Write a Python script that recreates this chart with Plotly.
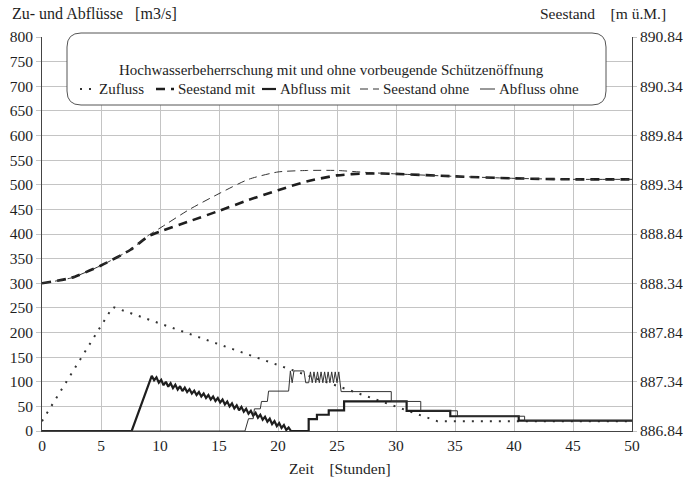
import plotly.graph_objects as go

# ---------------- data ----------------
zufluss_t = [0, 6, 33.5, 50]
zufluss_q = [20, 252, 20, 20]

abfluss_mit_t = [0, 7.6, 9.3, 9.5, 9.7, 9.9, 10.1, 10.3, 10.5, 10.7, 10.9, 11.1, 11.3, 11.5,
                 11.7, 11.9, 12.1, 12.3, 12.5, 12.7, 12.9, 13.1, 13.3, 13.5, 13.7, 13.9, 14.1,
                 14.3, 14.5, 14.7, 14.9, 15.1, 15.3, 15.5, 15.7, 15.9, 16.1, 16.3, 16.5, 16.7,
                 16.9, 17.1, 17.3, 17.5, 17.7, 17.9, 18.1, 18.3, 18.5, 18.7, 18.9, 19.1, 19.3,
                 19.5, 19.7, 19.9, 20.1, 20.3, 20.5, 20.7, 20.9, 21.1, 22.6, 22.6, 23.3, 23.3,
                 24.3, 24.3, 25.6, 25.6, 30.9, 30.9, 34.6, 34.6, 40.4, 40.4, 50]
abfluss_mit_q = [0, 0, 112, 103, 109, 98, 104, 93, 100, 90, 97, 87, 94, 84,
                 91, 81, 88, 79, 85, 76, 82, 73, 79, 70, 76, 67, 73,
                 64, 70, 61, 67, 58, 64, 54, 60, 50, 56, 46, 52, 42,
                 49, 39, 45, 35, 41, 31, 37, 27, 33, 23, 29, 19, 25,
                 14, 20, 10, 16, 6, 12, 2, 7, 0, 0, 24, 24, 33,
                 33, 42, 42, 60, 60, 41, 41, 30, 30, 21, 21]

abfluss_ohne_t = [0, 17.2, 17.5, 17.9, 18.0, 18.5, 18.6, 19.1, 19.2, 20.9, 21.05, 21.2, 21.35,
                  22.2, 22.35, 22.6, 22.75, 22.9, 23.05, 23.2, 23.35, 23.5, 23.65, 23.8, 23.95,
                  24.1, 24.25, 24.4, 24.55, 24.7, 24.85, 25.0, 25.15, 25.35, 29.6, 29.6, 32.1,
                  32.1, 35.2, 35.2, 40.9, 40.9, 50]
abfluss_ohne_q = [0, 0, 25, 25, 45, 45, 60, 60, 81, 81, 122, 98, 122,
                  122, 98, 98, 120, 98, 120, 98, 120, 98, 120, 98, 120,
                  98, 120, 98, 120, 98, 120, 98, 120, 80, 80, 60, 60,
                  41, 41, 30, 30, 21, 21]

seestand_t = [0, 2.5, 5, 7.5, 9, 10, 12.5, 15, 17.5, 20, 22.5, 25, 27.5, 30, 35, 40, 45, 50]
seestand_mit_m = [888.34, 888.395, 888.52, 888.68, 888.815, 888.865, 888.97, 889.075, 889.185,
                  889.285, 889.375, 889.435, 889.455, 889.45, 889.425, 889.405, 889.395, 889.395]
seestand_ohne_m = [888.34, 888.395, 888.52, 888.68, 888.825, 888.90, 889.09, 889.25, 889.395,
                   889.47, 889.485, 889.485, 889.465, 889.45, 889.425, 889.405, 889.395, 889.395]

x_ticks = [0, 5, 10, 15, 20, 25, 30, 35, 40, 45, 50]
left_ticks = [0, 50, 100, 150, 200, 250, 300, 350, 400, 450, 500, 550, 600, 650, 700, 750, 800]
right_ticks = [886.84, 887.34, 887.84, 888.34, 888.84, 889.34, 889.84, 890.34, 890.84]

series_names = ["Zufluss", "Seestand mit", "Abfluss mit", "Seestand ohne", "Abfluss ohne"]
title_text = "Hochwasserbeherrschung mit und ohne vorbeugende Schützenöffnung"

# ---------------- styles ----------------
FONT = "Liberation Serif"
INK = "#1e1e1e"
GRID = "#c4c4c4"
FS = 15.5
FSL = 15

styles = [
    dict(color="#333333", width=2, dash="2px,7px"),
    dict(color=INK, width=2.6, dash="9px,6px"),
    dict(color=INK, width=2.2, dash="solid"),
    dict(color="#333333", width=1, dash="8px,5px"),
    dict(color="#333333", width=1, dash="solid"),
]

# plot area in pixels (for placing the custom legend)
W, H = 688, 484
ML, MR, MT, MB = 42, 56, 37, 53
PW, PH = W - ML - MR, H - MT - MB


def px(X):
    return (X - ML) / PW


def py(Y):
    return (H - MB - Y) / PH


fig = go.Figure()
fig.add_trace(go.Scatter(x=zufluss_t, y=zufluss_q, name=series_names[0], mode="lines",
                         line=styles[0]))
fig.add_trace(go.Scatter(x=seestand_t, y=seestand_mit_m, name=series_names[1], mode="lines",
                         yaxis="y2", line=dict(**styles[1], shape="spline", smoothing=0.6)))
fig.add_trace(go.Scatter(x=abfluss_mit_t, y=abfluss_mit_q, name=series_names[2], mode="lines",
                         line=styles[2]))
fig.add_trace(go.Scatter(x=seestand_t, y=seestand_ohne_m, name=series_names[3], mode="lines",
                         yaxis="y2", line=dict(**styles[3], shape="spline", smoothing=0.6)))
fig.add_trace(go.Scatter(x=abfluss_ohne_t, y=abfluss_ohne_q, name=series_names[4], mode="lines",
                         line=styles[4]))

# rounded legend box
x0, x1, y0, y1 = px(67), px(606), py(105), py(33)
rx, ry = 14 / PW, 14 / PH
path = (f"M {x0+rx},{y1} L {x1-rx},{y1} Q {x1},{y1} {x1},{y1-ry} L {x1},{y0+ry} "
        f"Q {x1},{y0} {x1-rx},{y0} L {x0+rx},{y0} Q {x0},{y0} {x0},{y0+ry} "
        f"L {x0},{y1-ry} Q {x0},{y1} {x0+rx},{y1} Z")
fig.add_shape(type="path", path=path, xref="paper", yref="paper",
              fillcolor="white", line=dict(color="#555555", width=1), layer="above")

fig.add_annotation(text=title_text, xref="paper", yref="paper", x=px(331), y=py(70),
                   xanchor="center", yanchor="middle", borderpad=0,
                   showarrow=False, font=dict(family=FONT, size=FSL, color=INK))

# legend entries: (sample start, sample end, text start) in pixels
legend_pos = [(80, 95, 98), (156, 174, 177), (262, 276, 279), (360, 379, 382), (480, 495, 498)]
LY = 89
for name, st, (sx0, sx1, tx) in zip(series_names, styles, legend_pos):
    fig.add_shape(type="line", xref="paper", yref="paper", x0=px(sx0), x1=px(sx1),
                  y0=py(LY), y1=py(LY), layer="above",
                  line=dict(color=st["color"], width=st["width"], dash=st["dash"]))
    fig.add_annotation(text=name, xref="paper", yref="paper", x=px(tx), y=py(LY),
                       xanchor="left", yanchor="middle", showarrow=False, borderpad=0,
                       font=dict(family=FONT, size=FSL, color=INK))

fig.add_annotation(text="Zu- und Abflüsse" + "\u00a0" * 3 + "[m3/s]", xref="paper",
                   yref="paper", x=px(10), y=py(13), xanchor="left", yanchor="middle",
                   showarrow=False, font=dict(family=FONT, size=16, color=INK))
fig.add_annotation(text="Seestand" + "\u00a0" * 4 + "[m ü.M.]", xref="paper", yref="paper",
                   x=px(668), y=py(13), xanchor="right", yanchor="middle", showarrow=False,
                   font=dict(family=FONT, size=FS, color=INK))
fig.add_annotation(text="Zeit" + "\u00a0" * 4 + "[Stunden]", xref="paper", yref="paper",
                   x=px(340), y=py(468), xanchor="center", yanchor="middle", showarrow=False,
                   font=dict(family=FONT, size=FS, color=INK))

fig.update_layout(
    width=W, height=H,
    margin=dict(l=ML, r=MR, t=MT, b=MB, autoexpand=False),
    paper_bgcolor="white", plot_bgcolor="white",
    font=dict(family=FONT, size=FS, color=INK),
    showlegend=False,
    xaxis=dict(range=[0, 50], tickvals=x_ticks, showgrid=True, gridcolor=GRID, gridwidth=1,
               showline=True, linecolor="#444444", linewidth=1, zeroline=False,
               ticks="", automargin=False, tickfont=dict(family=FONT, size=FS, color=INK)),
    yaxis=dict(range=[0, 800], tickvals=left_ticks, showgrid=True, gridcolor=GRID, gridwidth=1,
               showline=True, linecolor="#444444", linewidth=1, zeroline=False,
               ticks="outside", ticklen=5, tickcolor=GRID, automargin=False,
               tickfont=dict(family=FONT, size=FS, color=INK)),
    yaxis2=dict(range=[886.84, 890.84], overlaying="y", side="right",
                tickvals=right_ticks, ticktext=[f"{v:.2f}" for v in right_ticks],
                showgrid=False, showline=True, linecolor="#444444", linewidth=1,
                zeroline=False, ticks="outside", ticklen=4, tickcolor=GRID, automargin=False,
                tickfont=dict(family=FONT, size=FS, color=INK)),
)

fig.write_html("out.html", config={"displayModeBar": False},
               post_script="document.body.style.margin='0';")
